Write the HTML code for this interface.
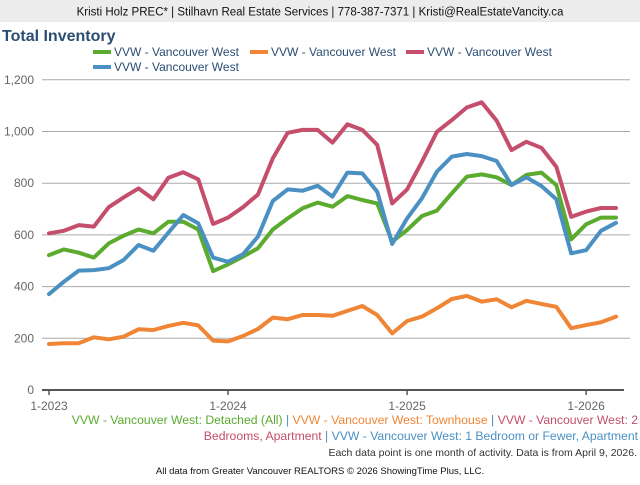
<!DOCTYPE html>
<html><head><meta charset="utf-8"><style>
body{margin:0;width:640px;height:480px;overflow:hidden;background:#fff;font-family:"Liberation Sans",sans-serif;}
</style></head><body>
<svg width="640" height="480" xmlns="http://www.w3.org/2000/svg" font-family="Liberation Sans, sans-serif">
<rect x="0" y="0" width="640" height="22" fill="#ececec"/>
<text x="320" y="15.5" font-size="11.5" text-anchor="middle" fill="#111">Kristi Holz PREC* | Stilhavn Real Estate Services | 778-387-7371 | Kristi@RealEstateVancity.ca</text>
<text x="2" y="41" font-size="16" font-weight="bold" fill="#2b4d73">Total Inventory</text>
<g font-size="12" fill="#2b4d73">
<rect x="93" y="50" width="18" height="4" fill="#5aab2e"/><text x="114" y="56">VVW - Vancouver West</text>
<rect x="250" y="50" width="18" height="4" fill="#ef8535"/><text x="271" y="56">VVW - Vancouver West</text>
<rect x="406" y="50" width="18" height="4" fill="#c44e6c"/><text x="427" y="56">VVW - Vancouver West</text>
<rect x="93" y="65" width="18" height="4" fill="#4a90c2"/><text x="114" y="71">VVW - Vancouver West</text>
</g>
<g id="grid"></g><g id="series"></g><g id="axes"></g>
<g font-size="12.2" text-anchor="end">
<text x="638" y="424"><tspan fill="#5aab2e">VVW - Vancouver West: Detached (All)</tspan><tspan fill="#4a90c2"> | </tspan><tspan fill="#ef8535">VVW - Vancouver West: Townhouse</tspan><tspan fill="#4a90c2"> | </tspan><tspan fill="#c44e6c">VVW - Vancouver West: 2</tspan></text>
<text x="638" y="440"><tspan fill="#c44e6c">Bedrooms, Apartment</tspan><tspan fill="#4a90c2"> | VVW - Vancouver West: 1 Bedroom or Fewer, Apartment</tspan></text>
</g>
<text x="637" y="456" font-size="10.5" text-anchor="end" fill="#333">Each data point is one month of activity. Data is from April 9, 2026.</text>
<text x="320" y="474" font-size="9.5" text-anchor="middle" fill="#111">All data from Greater Vancouver REALTORS © 2026 ShowingTime Plus, LLC.</text>
</svg>
<script>
const detached=[522,544,531,512,567,597,621,606,651,651,621,460,486,516,548,621,664,703,725,709,750,735,722,574,619,673,694,761,825,834,823,793,832,841,793,583,641,667,667];
const townhouse=[178,181,181,204,196,206,235,232,248,260,250,191,188,209,236,280,274,290,290,287,306,325,290,219,267,284,316,352,364,342,351,320,345,333,322,239,251,262,284];
const twoBed=[606,616,638,632,707,745,780,738,821,842,815,642,667,707,756,896,995,1006,1006,957,1028,1006,948,722,776,883,999,1044,1093,1113,1042,928,960,937,864,670,690,704,704];
const oneBed=[371,419,462,464,471,503,561,539,609,677,645,512,496,525,593,731,776,771,790,748,841,838,767,565,664,742,845,903,913,905,886,793,823,789,738,529,541,616,647];
const yTicks=[0,200,400,600,800,1000,1200];
const yTickLabels=["0","200","400","600","800","1,000","1,200"];
const xTickIdx=[0,12,24,36];
const xTickLabels=["1-2023","1-2024","1-2025","1-2026"];
const NS="http://www.w3.org/2000/svg";
function xs(i){return 49+i*14.92;}
function ys(v){return 390-v*0.2585;}
function mk(tag,attrs,parent){const e=document.createElementNS(NS,tag);for(const k in attrs)e.setAttribute(k,attrs[k]);parent.appendChild(e);return e;}
const grid=document.getElementById('grid'),series=document.getElementById('series'),axes=document.getElementById('axes');
yTicks.forEach((v,k)=>{
  if(v>0){const l=mk('line',{x1:42,x2:630,y1:ys(v),y2:ys(v),stroke:'#aaa','stroke-width':1},grid);
  
  }
  const t=mk('text',{x:34,y:ys(v)+4,'font-size':12,'text-anchor':'end',fill:'#666'},grid);
  t.textContent=yTickLabels[k];
  
  
});
const ax=mk('line',{x1:42,x2:624,y1:390,y2:390,stroke:'#555','stroke-width':2},axes);


xTickIdx.forEach((i,k)=>{
  const tk=mk('line',{x1:xs(i),x2:xs(i),y1:390,y2:395,stroke:'#555','stroke-width':1.5},axes);
  
  
  const t=mk('text',{x:xs(i),y:410,'font-size':12,'text-anchor':'middle',fill:'#666'},axes);
  t.textContent=xTickLabels[k];
  
  
});
function line(data,color,name){
  const p=mk('polyline',{points:data.map((v,i)=>xs(i).toFixed(1)+','+ys(v).toFixed(1)).join(' '),fill:'none',stroke:color,'stroke-width':4,'stroke-linejoin':'round','stroke-linecap':'round'},series);
  
  
}
line(townhouse,'#ef8535','series-townhouse');
line(detached,'#5aab2e','series-detached');
line(oneBed,'#4a90c2','series-1bed-apartment');
line(twoBed,'#c44e6c','series-2bed-apartment');
</script>
</body></html>
